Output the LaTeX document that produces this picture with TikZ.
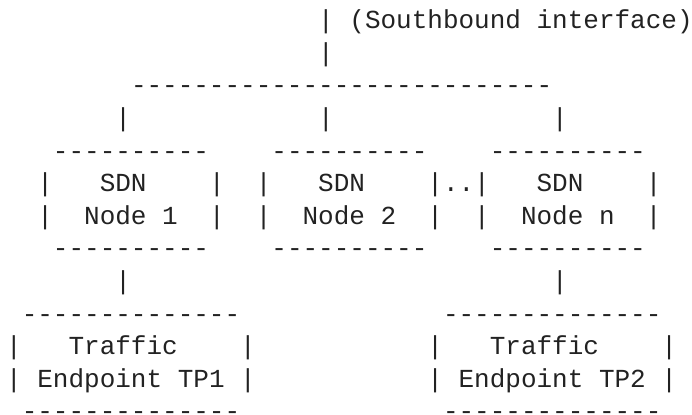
\documentclass[tikz,border=0pt]{standalone}
\usepackage{fontspec}
\newfontfamily\asciifont{Liberation Mono}
\definecolor{ink}{HTML}{222222}
\tikzset{
  seg/.style={anchor=base west, inner sep=0pt, outer sep=0pt,
    font=\asciifont\fontsize{13pt}{16.3pt}\selectfont, text=ink}
}
% #1 name, #2 column, #3 row, #4 text
\newcommand\seg[4]{\node[seg] (#1) at ({3.1pt+7.8pt*#2},{-14.35pt-16.3pt*(#3-1)}) {#4};}
\newcommand\dashes[1]{\foreach\i in {1,...,#1}{-}}
\begin{document}
\begin{tikzpicture}
\useasboundingbox (0,0) rectangle (346pt,-207pt);
% row 1-2: southbound interface
\seg{sbA}{20}{1}{|}
\seg{sbB}{22}{1}{(Southbound}
\seg{sbC}{34}{1}{interface)}
\seg{sbD}{20}{2}{|}
% row 3-4: bus
\seg{bus}{8}{3}{\dashes{27}}
\seg{upA}{7}{4}{|}
\seg{upB}{20}{4}{|}
\seg{upC}{35}{4}{|}
% rows 5-8: SDN nodes
\seg{n1top}{3}{5}{\dashes{10}}
\seg{n2top}{17}{5}{\dashes{10}}
\seg{n3top}{31}{5}{\dashes{10}}
\seg{n1l}{2}{6}{|}
\seg{n1a}{6}{6}{SDN}
\seg{n1r}{13}{6}{|}
\seg{n2l}{16}{6}{|}
\seg{n2a}{20}{6}{SDN}
\seg{n2r}{27}{6}{|..|}
\seg{n3a}{34}{6}{SDN}
\seg{n3r}{41}{6}{|}
\seg{n1lb}{2}{7}{|}
\seg{n1b}{5}{7}{Node}
\seg{n1c}{10}{7}{1}
\seg{n1rb}{13}{7}{|}
\seg{n2lb}{16}{7}{|}
\seg{n2b}{19}{7}{Node}
\seg{n2c}{24}{7}{2}
\seg{n2rb}{27}{7}{|}
\seg{n3lb}{30}{7}{|}
\seg{n3b}{33}{7}{Node}
\seg{n3c}{38}{7}{n}
\seg{n3rb}{41}{7}{|}
\seg{n1bot}{3}{8}{\dashes{10}}
\seg{n2bot}{17}{8}{\dashes{10}}
\seg{n3bot}{31}{8}{\dashes{10}}
% row 9: links down
\seg{dnA}{7}{9}{|}
\seg{dnB}{35}{9}{|}
% rows 10-13: traffic endpoints
\seg{t1top}{1}{10}{\dashes{14}}
\seg{t2top}{28}{10}{\dashes{14}}
\seg{t1l}{0}{11}{|}
\seg{t1a}{4}{11}{Traffic}
\seg{t1r}{15}{11}{|}
\seg{t2l}{27}{11}{|}
\seg{t2a}{31}{11}{Traffic}
\seg{t2r}{42}{11}{|}
\seg{t1lb}{0}{12}{|}
\seg{t1b}{2}{12}{Endpoint}
\seg{t1c}{11}{12}{TP1}
\seg{t1rb}{15}{12}{|}
\seg{t2lb}{27}{12}{|}
\seg{t2b}{29}{12}{Endpoint}
\seg{t2c}{38}{12}{TP2}
\seg{t2rb}{42}{12}{|}
\seg{t1bot}{1}{13}{\dashes{14}}
\seg{t2bot}{28}{13}{\dashes{14}}
\end{tikzpicture}
\end{document}
